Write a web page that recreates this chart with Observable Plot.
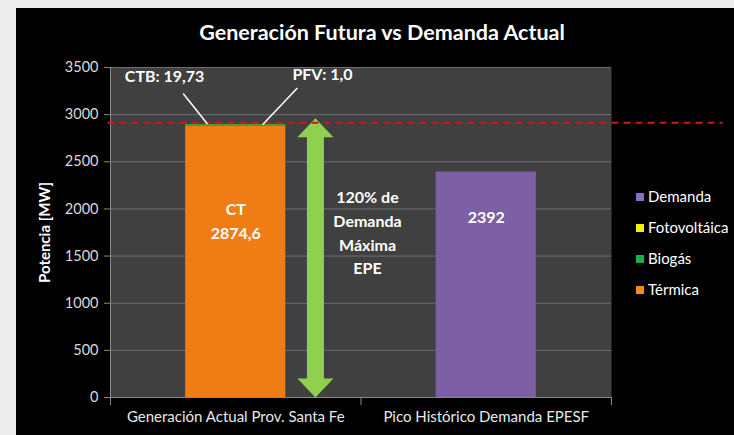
<!DOCTYPE html>
<html>
<head>
<meta charset="utf-8">
<script src="https://cdn.jsdelivr.net/npm/d3@7"></script>
<script src="https://cdn.jsdelivr.net/npm/@observablehq/plot@0.6"></script>
<style>
  html, body { margin: 0; padding: 0; }
  body { width: 734px; height: 435px; background: #ececec; position: relative; overflow: hidden; font-family: Lato, "Open Sans", sans-serif; }
  #panel { position: absolute; left: 16px; top: 8px; width: 718px; height: 427px; background: #000; }
  #chart { position: absolute; left: 0; top: 0; }
  #title { position: absolute; left: 0; top: 19px; width: 764px; text-align: center; color: #fff; font-weight: bold; font-size: 21.5px; }
  #legend { position: absolute; left: 636px; top: 187px; color: #fff; font-size: 15px; }
  #legend div { height: 31px; display: flex; align-items: flex-start; white-space: nowrap; }
  #legend span.sw { display: inline-block; width: 8px; height: 8px; margin: 6px 4px 0 0; }
</style>
</head>
<body>
<div id="panel"></div>
<div id="chart"></div>
<div id="title">Generación Futura vs Demanda Actual</div>
<div id="legend"></div>
<script>
// ---- data ----
const categories = ["Generación Actual Prov. Santa Fe", "Pico Histórico Demanda EPESF"];
const seriesNames = ["Térmica", "Biogás", "Fotovoltáica", "Demanda"];
const termica = [2874.6, 0];
const biogas = [19.73, 0];
const fotovoltaica = [1.0, 0];
const demanda = [0, 2392];
const seriesColors = ["#f07d14", "#2aa84a", "#f2f200", "#7d5fa6"];
const legendOrder = ["Demanda", "Fotovoltáica", "Biogás", "Térmica"];
const legendColors = ["#8a6cc0", "#f2f200", "#16b04c", "#f08a24"];
const yTicks = [0, 500, 1000, 1500, 2000, 2500, 3000, 3500];
const limitValue = 2915;           // red dashed 120% line
const arrowRange = [0, 2962];       // green double arrow extent
const barLabels = [
  {cat: 0, y: 1988, text: "CT"},
  {cat: 0, y: 1734, text: "2874,6"},
  {cat: 1, y: 1903, text: "2392"}
];
const noteLines = ["120% de", "Demanda", "Máxima", "EPE"];
const noteY = [2116, 1861, 1607, 1363];
const callouts = [
  {text: "CTB: 19,73", tx: -0.284, ty: 3400, x1: -0.21, y1: 3225, x2: -0.113, y2: 2900},
  {text: "PFV: 1,0", tx: 0.346, ty: 3420, x1: 0.246, y1: 3282, x2: 0.107, y2: 2893}
];
const arrowX = 0.318;
const noteX = 0.526;

// ---- build table ----
const valuesBySeries = [termica, biogas, fotovoltaica, demanda];
const rects = [];
categories.forEach((c, i) => {
  let base = 0;
  valuesBySeries.forEach((vals, s) => {
    const v = vals[i];
    if (v > 0) {
      rects.push({i, series: seriesNames[s], y1: base, y2: base + v, color: seriesColors[s]});
      base += v;
    }
  });
});
const halfBar = 0.2;

const headSymbol = {
  draw(ctx, size) {
    const r = Math.sqrt(size / Math.PI);
    ctx.moveTo(0, 0);
    ctx.lineTo(r, r * 1.05);
    ctx.lineTo(-r, r * 1.05);
    ctx.closePath();
  }
};
const shaftInset = 190;
const font = "Lato, 'Open Sans', sans-serif";

const plot = Plot.plot({
  width: 734,
  height: 435,
  marginTop: 67,
  marginBottom: 38,
  marginLeft: 110,
  marginRight: 123,
  style: {background: "transparent", color: "#d9d9d9", fontFamily: font, fontSize: "14.5px"},
  x: {domain: [-0.5, 1.5]},
  y: {domain: [0, 3500]},
  marks: [
    Plot.frame({fill: "#404040", stroke: null}),
    Plot.gridY(yTicks, {stroke: "#6e6e6e", strokeOpacity: 1}),
    Plot.rectY(rects, {x1: d => d.i - halfBar, x2: d => d.i + halfBar, y1: "y1", y2: "y2", fill: "color"}),
    Plot.ruleX([-0.5], {stroke: "#8a8a8a"}),
    Plot.ruleY([0], {stroke: "#8a8a8a"}),
    Plot.axisY(yTicks, {tickSize: 6, tickPadding: 6, stroke: "#8a8a8a", fill: "#d9d9d9", label: null, tickFormat: d => String(d), fontSize: 14.5}),
    Plot.axisX([-0.5, 0.5, 1.5], {tickSize: 8, stroke: "#8a8a8a", tickFormat: () => "", label: null}),
    Plot.axisX([0, 1], {tickSize: 0, tickPadding: 14, tickFormat: i => categories[i], fill: "#e8e8e8", label: null, fontSize: 15}),
    Plot.text(["Potencia [MW]"], {frameAnchor: "left", textAnchor: "middle", rotate: -90, dx: -65, fill: "#fff", fontWeight: "bold", fontSize: 15}),
    // green double arrow
    Plot.ruleX([arrowX], {y1: arrowRange[0] + shaftInset, y2: arrowRange[1] - shaftInset, stroke: "#8fd14f", strokeWidth: 17}),
    Plot.dot([arrowRange[1]], {x: arrowX, y: d => d, symbol: headSymbol, r: 18, fill: "#8fd14f", stroke: null}),
    Plot.dot([arrowRange[0]], {x: arrowX, y: d => d, symbol: headSymbol, r: 18, rotate: 180, fill: "#8fd14f", stroke: null}),
    // red dashed limit
    Plot.ruleY([limitValue], {x1: -0.51, x2: 1.945, stroke: "#d01818", strokeWidth: 2, strokeDasharray: "7,5", clip: false}),
    // bar labels
    Plot.text(barLabels, {x: "cat", y: "y", text: "text", fill: "#fff", fontWeight: "bold", fontSize: 16}),
    Plot.text(noteLines, {x: noteX, y: (d, i) => noteY[i], text: d => d, fill: "#fff", fontWeight: "bold", fontSize: 16}),
    // callouts
    Plot.link(callouts, {x1: "x1", y1: "y1", x2: "x2", y2: "y2", stroke: "#fff", strokeWidth: 1.5}),
    Plot.text(callouts, {x: "tx", y: "ty", text: "text", fill: "#fff", fontWeight: "bold", fontSize: 16})
  ]
});
document.getElementById("chart").appendChild(plot);

const legend = document.getElementById("legend");
legendOrder.forEach((name, i) => {
  const row = document.createElement("div");
  const sw = document.createElement("span");
  sw.className = "sw";
  sw.style.background = legendColors[i];
  row.appendChild(sw);
  row.appendChild(document.createTextNode(name));
  legend.appendChild(row);
});
</script>
</body>
</html>
